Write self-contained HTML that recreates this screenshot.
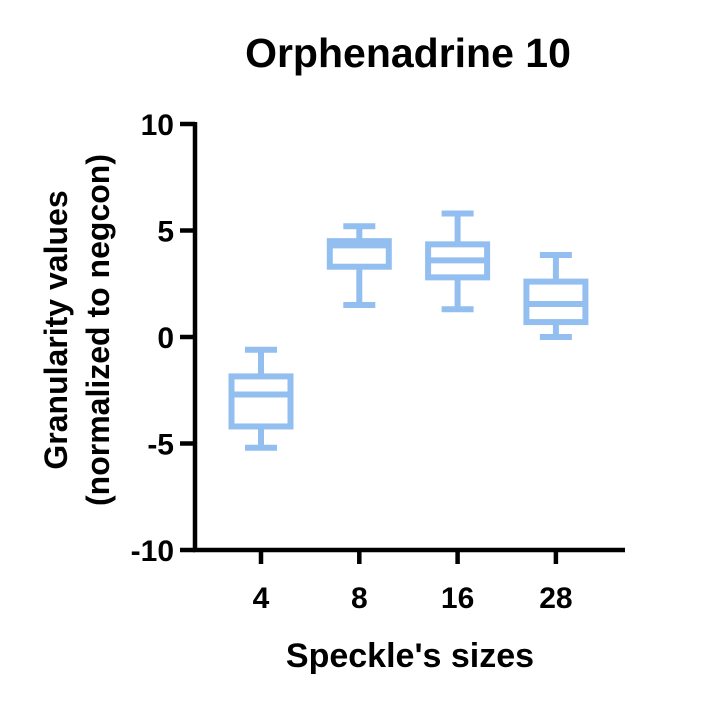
<!DOCTYPE html>
<html><head><meta charset="utf-8"><style>
body{margin:0;background:#fff}
text{font-family:"Liberation Sans",Arial,sans-serif;font-weight:bold;fill:#000}
</style></head><body>
<svg id="c" width="720" height="706" xmlns="http://www.w3.org/2000/svg">
<text x="408" y="67" font-size="41" text-anchor="middle">Orphenadrine 10</text>
<text x="410" y="667" font-size="34" text-anchor="middle">Speckle's sizes</text>
<text transform="translate(67,330) rotate(-90)" font-size="32" text-anchor="middle"><tspan x="0" dy="0">Granularity values</tspan><tspan x="0" dy="42">(normalized to negcon)</tspan></text>
<g id="axes"></g><g id="boxes"></g>
</svg>
<script>
const categories=["4","8","16","28"];
const mins=[-5.2,1.5,1.3,0];
const q1s=[-4.2,3.3,2.8,0.7];
const medians=[-2.7,4.3,3.6,1.55];
const q3s=[-1.85,4.5,4.35,2.6];
const maxs=[-0.6,5.2,5.8,3.85];
const yTicks=[10,5,0,-5,-10];
const NS="http://www.w3.org/2000/svg";
const y=v=>337-v*21.3;
const x=i=>261+i*98.3;
function mk(tag,attrs,parent){const e=document.createElementNS(NS,tag);for(const k in attrs)e.setAttribute(k,attrs[k]);parent.appendChild(e);return e;}
const ax=document.getElementById('axes'),bx=document.getElementById('boxes');
let l=mk('line',{x1:195,y1:y(10)-2,x2:195,y2:y(-10)+2,stroke:'#000','stroke-width':4.5},ax);


l=mk('line',{x1:193,y1:y(-10),x2:625,y2:y(-10),stroke:'#000','stroke-width':4.5},ax);


yTicks.forEach(v=>{
 const t=mk('line',{x1:180,y1:y(v),x2:195,y2:y(v),stroke:'#000','stroke-width':4.5},ax);
 
 
 const tx=mk('text',{x:174,y:y(v)+11,'font-size':30,'text-anchor':'end'},ax);tx.textContent=v;
 
 
});
categories.forEach((c,i)=>{
 const cx=x(i);
 const t=mk('line',{x1:cx,y1:y(-10),x2:cx,y2:y(-10)+14,stroke:'#000','stroke-width':4.5},ax);
 
 
 const tx=mk('text',{x:cx,y:608,'font-size':30,'text-anchor':'middle'},ax);tx.textContent=c;
 
 
 const g=mk('g',{stroke:'#93bff0','stroke-width':6,fill:'none'},bx);
 
 
 mk('line',{x1:cx,y1:y(maxs[i]),x2:cx,y2:y(q3s[i])},g);
 mk('line',{x1:cx,y1:y(q1s[i]),x2:cx,y2:y(mins[i])},g);
 mk('line',{x1:cx-16,y1:y(maxs[i]),x2:cx+16,y2:y(maxs[i])},g);
 mk('line',{x1:cx-16,y1:y(mins[i]),x2:cx+16,y2:y(mins[i])},g);
 mk('rect',{x:cx-29.5,y:y(q3s[i]),width:59,height:y(q1s[i])-y(q3s[i])},g);
 mk('line',{x1:cx-29.5,y1:y(medians[i]),x2:cx+29.5,y2:y(medians[i])},g);
});
</script>
</body></html>
